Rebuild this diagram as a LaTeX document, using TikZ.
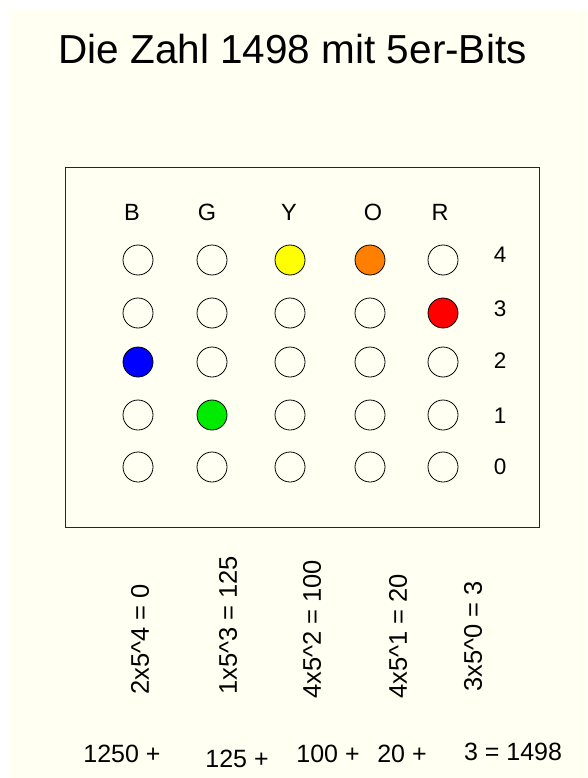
\documentclass[tikz,border=0pt]{standalone}
\usepackage{fontspec}
\setmainfont{Liberation Sans}
\usepackage{xcolor}
\usepackage{tikz}
\usetikzlibrary{positioning}
\definecolor{creme}{RGB}{255,255,242}
\definecolor{bit_blue}{RGB}{0,0,255}
\definecolor{bit_green}{RGB}{0,235,0}
\definecolor{bit_yellow}{RGB}{255,255,0}
\definecolor{bit_orange}{RGB}{255,128,0}
\definecolor{bit_red}{RGB}{255,0,0}

\begin{document}
\begin{tikzpicture}[
    x=1pt, y=-1pt,
    bit_dot/.style={circle, draw=black, line width=0.8pt, minimum size=30pt, inner sep=0pt},
    col_label/.style={font=\fontsize{23.5}{28}\selectfont, anchor=base, inner sep=0pt},
    row_label/.style={font=\fontsize{22.5}{27}\selectfont, inner sep=0pt},
    term_label/.style={font=\fontsize{25.5}{30}\selectfont, rotate=90, anchor=west, inner sep=0pt},
    sum_label/.style={font=\fontsize{25}{30}\selectfont, anchor=base, inner sep=0pt}
]
\useasboundingbox (0,0) rectangle (587,778);
\fill[creme] (10,10) rectangle (587,778);

\node (title) [anchor=base, font=\fontsize{40.5}{48}\selectfont, inner sep=0pt] at (292.5,64)
    {Die Zahl 1498 mit 5er-Bits};

\draw[line width=0.8pt, draw=black!85] (65,167) rectangle (539,527);

\foreach \col/\x in {B/132, G/207, Y/289, O/373, R/440}
    \node (head_\col) [col_label] at (\x,220) {\col};

\foreach \row/\y in {4/255, 3/309, 2/361, 1/416, 0/467}
    \node (rank_\row) [row_label] at (500,\y) {\row};

\foreach \col/\x/\on/\dotcol in {B/138/2/bit_blue, G/212/1/bit_green, Y/290/4/bit_yellow, O/370/4/bit_orange, R/443/3/bit_red}
    \foreach \row/\y in {4/260, 3/313, 2/362, 1/415, 0/467} {
        \ifnum\row=\on \def\dotfill{\dotcol}\else \def\dotfill{creme}\fi
        \node (dot_\col\row) [bit_dot, fill=\dotfill] at (\x,\y) {};
    }

\node (term_B) [term_label] at (140,695) {2x5\textasciicircum4 = 0};
\node (term_G) [term_label] at (228,695) {1x5\textasciicircum3 = 125};
\node (term_Y) [term_label] at (312,699) {4x5\textasciicircum2 = 100};
\node (term_O) [term_label] at (398,699) {4x5\textasciicircum1 = 20};
\node (term_R) [term_label] at (473,692) {3x5\textasciicircum0 = 3};

\node (sum_B) [sum_label] at (122,762) {1250 +};
\node (sum_G) [sum_label] at (237,767) {125 +};
\node (sum_Y) [sum_label] at (328,762) {100 +};
\node (sum_O) [sum_label] at (402,762) {20 +};
\node (sum_R) [sum_label] at (513,760) {3 = 1498};

\end{tikzpicture}
\end{document}
